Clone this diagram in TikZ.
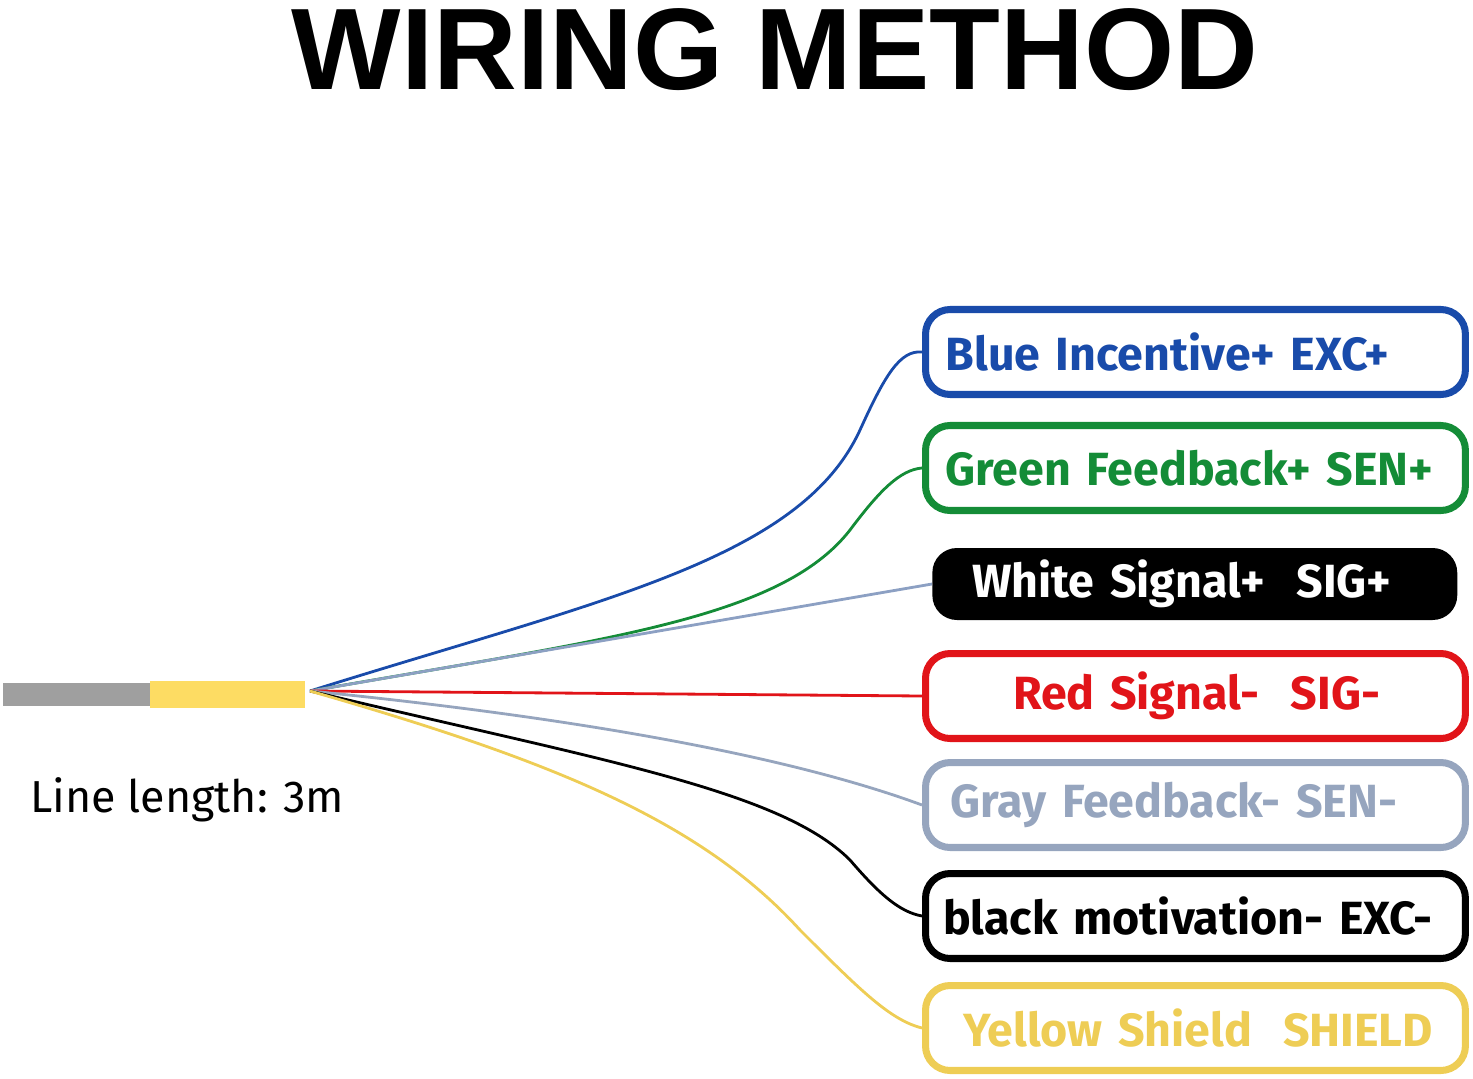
\documentclass[tikz,border=0pt]{standalone}
\usepackage{fontspec}
\setmainfont{Fira Sans}
\newfontfamily\titlefont{Liberation Sans}
\begin{document}
\begin{tikzpicture}[x=0.02cm,y=-0.02cm,
 lab/.style={draw=#1,line width=4pt,rounded corners=14pt,text=#1,font=\fontsize{26.5}{30}\selectfont\bfseries,minimum height=1.7cm,text width=10.8cm,align=left,anchor=west,inner sep=0pt},
 wire/.style={draw=#1,line width=1.6pt}]
\definecolor{cb}{RGB}{25,75,170}\definecolor{cg}{RGB}{20,140,55}\definecolor{cw}{RGB}{140,160,195}
\definecolor{cr}{RGB}{225,20,25}\definecolor{cgr}{RGB}{150,165,190}\definecolor{cy}{RGB}{238,205,85}
\useasboundingbox (0,0) rectangle (1473,1078);
\node[font=\titlefont\fontsize{66}{70}\selectfont\bfseries] (t) at (775,50) {WIRING METHOD};
\fill[gray!75] (3,683) rectangle (152,706);
\fill[yellow!60!orange!60] (150,681) rectangle (305,708);
\coordinate (o) at (310,691);
\node[lab=cb] (b1) at (922,352) {\hspace*{0.4cm}Blue Incentive+ EXC+};
\node[lab=cg] (b2) at (922,468) {\hspace*{0.4cm}Green Feedback+ SEN+};
\node[fill=black,rounded corners=14pt,text=white,font=\fontsize{26.5}{30}\selectfont\bfseries,minimum height=1.44cm,text width=10.5cm,align=left,anchor=west,inner sep=0pt] (b3) at (932,584) {\hspace*{0.8cm}White Signal+\ \ SIG+};
\node[lab=cr] (b4) at (922,696) {\hspace*{1.75cm}Red Signal-\ \ SIG-};
\node[lab=cgr] (b5) at (922,805) {\hspace*{0.5cm}Gray Feedback- SEN-};
\node[lab=black] (b6) at (922,916) {\hspace*{0.35cm}black motivation- EXC-};
\node[lab=cy] (b7) at (922,1028) {\hspace*{0.75cm}Yellow Shield\ \ SHIELD};
\draw[wire=cb] (o) .. controls (600,600) and (800,560) .. (860,430) .. controls (885,375) and (900,350) .. (b1.west);
\draw[wire=cg] (o) .. controls (600,640) and (780,620) .. (850,530) .. controls (880,490) and (900,470) .. (b2.west);
\draw[wire=cw] (o) -- (b3.west);
\draw[wire=cr] (o) -- (b4.west);
\draw[wire=cgr] (o) .. controls (600,720) and (800,760) .. (b5.west);
\draw[wire=black] (o) .. controls (600,760) and (780,790) .. (850,860) .. controls (880,895) and (900,912) .. (b6.west);
\draw[wire=cy] (o) .. controls (550,760) and (700,820) .. (800,930) .. controls (860,990) and (890,1020) .. (b7.west);
\node[font=\fontsize{25.5}{30}\selectfont,anchor=west] (ll) at (24,800) {Line length: 3m};
\end{tikzpicture}
\end{document}
